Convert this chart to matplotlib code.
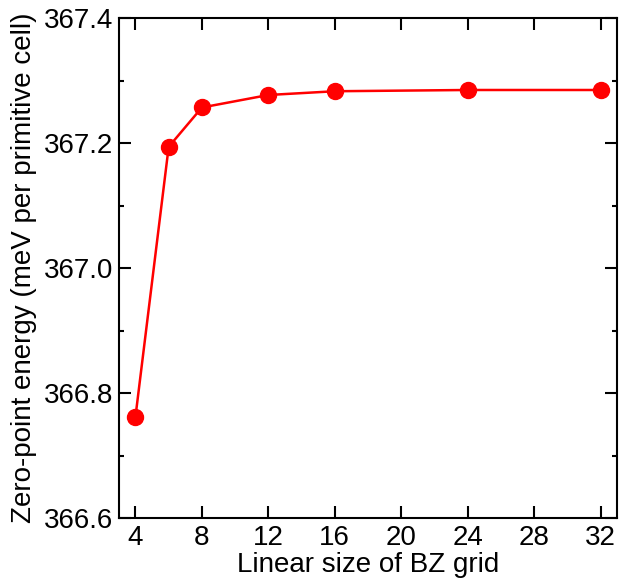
import numpy as np
import matplotlib.pyplot as plt
from matplotlib.ticker import MultipleLocator

plt.rcParams['font.family'] = ['Liberation Sans', 'DejaVu Sans']

grid_size = [4, 6, 8, 12, 16, 24, 32]
zpe = [366.762, 367.194, 367.257, 367.277, 367.283, 367.285, 367.285]

fig = plt.figure(figsize=(6.19, 5.85), dpi=100)
ax = fig.add_axes([0.192, 0.1145, 0.805, 0.8545])

ax.plot(grid_size, zpe, '-o', color='#ff0000', lw=1.8, markersize=11.5)

ax.set_xlim(3, 33)
ax.set_ylim(366.6, 367.4)
ax.set_xticks(np.arange(4, 33, 4))
ax.set_yticks([366.6, 366.8, 367.0, 367.2, 367.4])
ax.set_yticklabels(['366.6', '366.8', '367.0', '367.2', '367.4'])
ax.xaxis.set_minor_locator(MultipleLocator(2))
ax.yaxis.set_minor_locator(MultipleLocator(0.1))

ax.tick_params(which='both', direction='in', top=True, right=True, labelsize=20, width=1.5)
ax.tick_params(which='major', length=8.5)
ax.tick_params(axis='y', which='major', pad=4)
ax.tick_params(axis='x', which='major', pad=5)
ax.tick_params(axis='x', which='minor', length=0.8)
ax.tick_params(axis='y', which='minor', length=3.6)
for s in ax.spines.values():
    s.set_linewidth(1.5)

ax.set_xlabel('Linear size of BZ grid', fontsize=20, labelpad=1)
ax.set_ylabel('Zero-point energy (meV per primitive cell)', fontsize=20, labelpad=5)

fig.savefig('out.png', dpi=100)
